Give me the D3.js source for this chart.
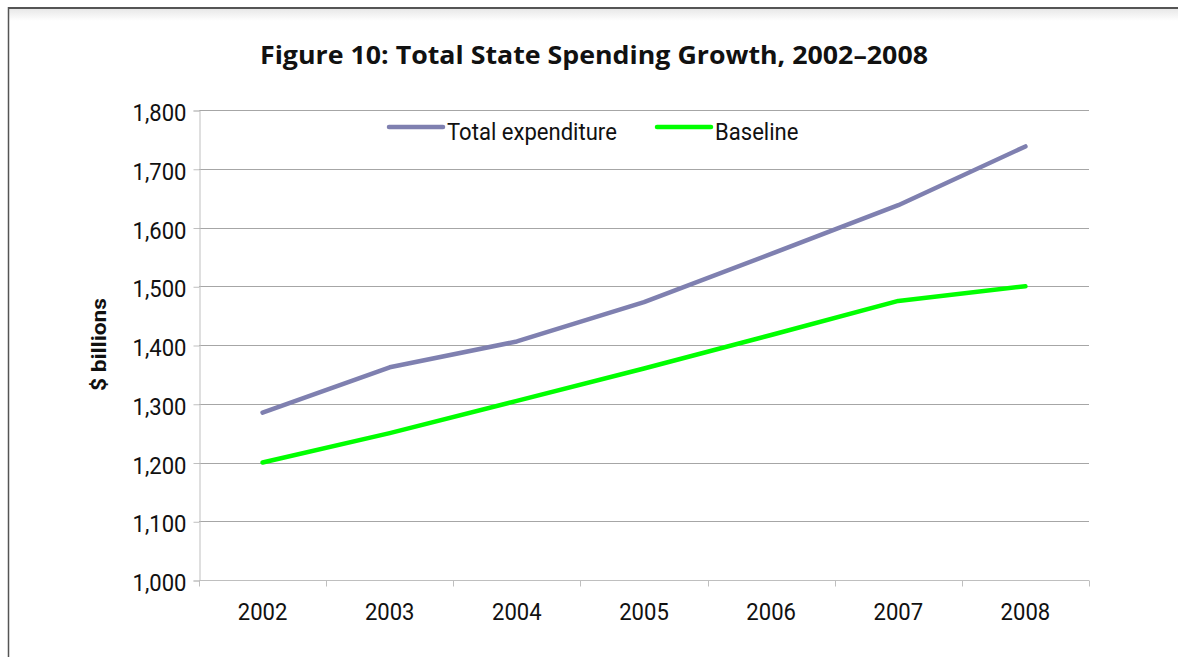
<!DOCTYPE html>
<html>
<head>
<meta charset="utf-8">
<script src="https://cdn.jsdelivr.net/npm/d3@7"></script>
<style>
  body { margin: 0; background: #fff; }
  svg { display: block; }
</style>
</head>
<body>
<div id="chart"></div>
<script>
var years = ["2002", "2003", "2004", "2005", "2006", "2007", "2008"];
var totalExpenditure = [1285, 1362, 1406, 1473, 1555, 1638, 1738];
var baseline = [1200, 1250, 1305, 1360, 1417, 1475, 1500];
var yTicks = [1000, 1100, 1200, 1300, 1400, 1500, 1600, 1700, 1800];
var seriesNames = ["Total expenditure", "Baseline"];
var seriesColors = ["#7f80b0", "#00ff00"];

var width = 1178, height = 657;
var margin = {top: 110, left: 199, right: 89, bottom: 77};
var narrowFont = "Roboto, 'Liberation Sans', sans-serif";
var squeeze = 0.92;

var svg = d3.select("#chart").append("svg")
    .attr("width", width)
    .attr("height", height);

// frame with soft shadow under the top rule
var defs = svg.append("defs");
var grad = defs.append("linearGradient")
    .attr("id", "shade").attr("x1", 0).attr("y1", 0).attr("x2", 0).attr("y2", 1);
grad.append("stop").attr("offset", 0).attr("stop-color", "#e8e8e8");
grad.append("stop").attr("offset", 1).attr("stop-color", "#ffffff");

svg.append("rect")
    .attr("x", 9).attr("y", 9).attr("width", width - 9).attr("height", 12)
    .attr("fill", "url(#shade)");
svg.append("line")
    .attr("x1", 8).attr("x2", width).attr("y1", 8).attr("y2", 8)
    .attr("stroke", "#555").attr("stroke-width", 2);
svg.append("line")
    .attr("x1", 8.5).attr("x2", 8.5).attr("y1", 7).attr("y2", height)
    .attr("stroke", "#555").attr("stroke-width", 1.5);

// draws condensed-looking text by squeezing it horizontally
function narrowText(g, tx, ty, str, anchor, size) {
  return g.append("text")
    .attr("transform", "translate(" + tx + "," + ty + ") scale(" + squeeze + ",1)")
    .attr("text-anchor", anchor)
    .style("font-family", narrowFont)
    .style("font-size", size + "px")
    .attr("fill", "#111")
    .text(str);
}

var x = d3.scaleBand()
    .domain(years)
    .range([margin.left, width - margin.right]);

var y = d3.scaleLinear()
    .domain([1000, 1800])
    .range([height - margin.bottom, margin.top]);

// gridlines
svg.append("g")
  .selectAll("line")
  .data(yTicks.slice(1))
  .enter().append("line")
    .attr("x1", margin.left)
    .attr("x2", width - margin.right)
    .attr("y1", function(d) { return Math.round(y(d)) + 0.5; })
    .attr("y2", function(d) { return Math.round(y(d)) + 0.5; })
    .attr("stroke", "#a6a6a6")
    .attr("stroke-width", 1);

// y axis
var yAxis = d3.axisLeft(y)
    .tickValues(yTicks)
    .tickSize(6)
    .tickPadding(14)
    .tickFormat(d3.format(","));

var gy = svg.append("g")
    .attr("transform", "translate(" + (margin.left + 0.5) + ",0.5)")
    .call(yAxis);

gy.select(".domain").attr("stroke", "#bfbfbf");
gy.selectAll(".tick line").attr("stroke", "#bfbfbf");
gy.selectAll(".tick text")
    .attr("x", null)
    .attr("dy", null)
    .attr("transform", "translate(-13,10) scale(" + squeeze + ",1)")
    .style("font-family", narrowFont)
    .style("font-size", "24px")
    .attr("fill", "#111");

// x axis, ticks at category boundaries
var gx = svg.append("g")
    .attr("transform", "translate(0," + (Math.round(y(1000)) + 0.5) + ")");
gx.append("line")
    .attr("x1", margin.left).attr("x2", width - margin.right)
    .attr("stroke", "#bfbfbf");
gx.selectAll(".tick")
  .data(years.concat(["end"]))
  .enter().append("line")
    .attr("class", "tick")
    .attr("x1", function(d, i) { return Math.round(margin.left + i * x.step()) + 0.5; })
    .attr("x2", function(d, i) { return Math.round(margin.left + i * x.step()) + 0.5; })
    .attr("y1", 0).attr("y2", 6)
    .attr("stroke", "#bfbfbf");
years.forEach(function(d) {
  narrowText(gx, x(d) + x.bandwidth() / 2, 39, d, "middle", 24);
});

// lines
var line = d3.line()
    .x(function(d, i) { return x(years[i]) + x.bandwidth() / 2; })
    .y(function(d) { return y(d); });

[totalExpenditure, baseline].forEach(function(s, i) {
  svg.append("path")
    .datum(s)
    .attr("d", line)
    .attr("fill", "none")
    .attr("stroke", seriesColors[i])
    .attr("stroke-width", 4.5)
    .attr("stroke-linecap", "round")
    .attr("stroke-linejoin", "round");
});

// legend
var legendX = [389, 657];
var legend = svg.append("g").attr("transform", "translate(0,127)");
seriesNames.forEach(function(name, i) {
  legend.append("line")
    .attr("x1", legendX[i]).attr("x2", legendX[i] + 54)
    .attr("stroke", seriesColors[i])
    .attr("stroke-width", 4.5)
    .attr("stroke-linecap", "round");
  narrowText(legend, legendX[i] + 58, 13, name, "start", 24);
});

// titles
svg.append("text")
    .attr("x", 260)
    .attr("y", 64)
    .attr("textLength", 668)
    .attr("lengthAdjust", "spacingAndGlyphs")
    .style("font-family", "'Open Sans', Lato, sans-serif")
    .style("font-weight", "bold")
    .style("font-size", "25px")
    .attr("fill", "#111")
    .text("Figure 10: Total State Spending Growth, 2002\u20132008");

svg.append("text")
    .attr("transform", "translate(106,391) rotate(-90)")
    .attr("textLength", 93)
    .attr("lengthAdjust", "spacingAndGlyphs")
    .style("font-family", narrowFont)
    .style("font-weight", "bold")
    .style("font-size", "21px")
    .attr("fill", "#111")
    .text("$ billions");
</script>
</body>
</html>
